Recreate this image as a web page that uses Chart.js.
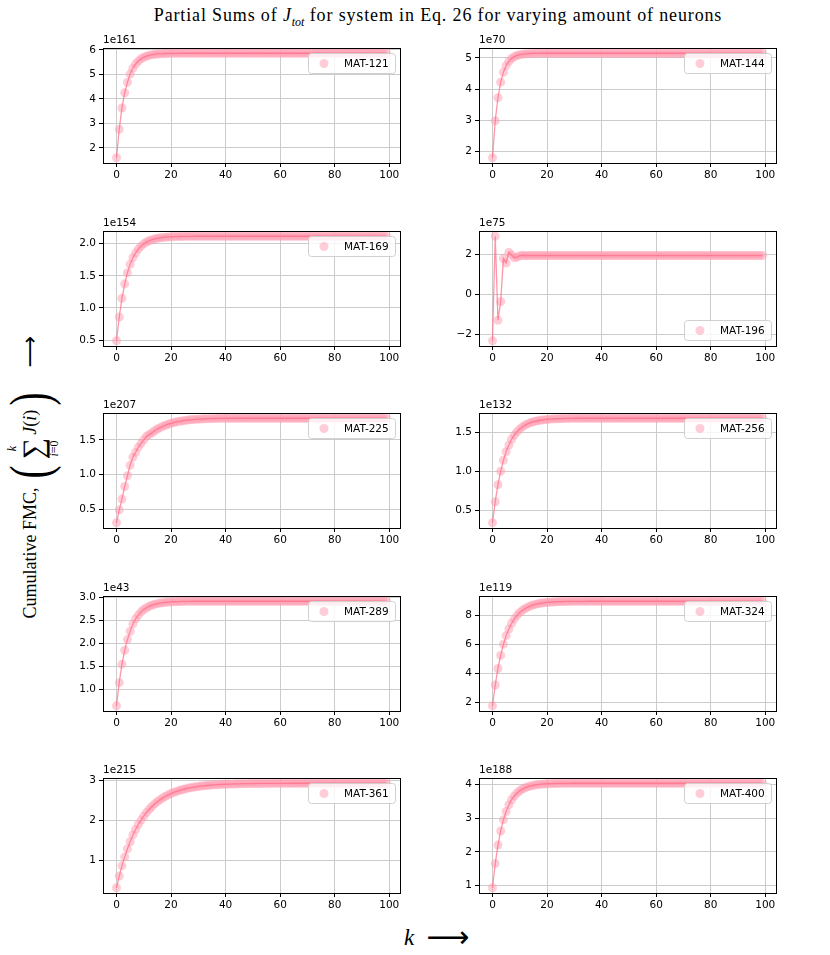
<!DOCTYPE html>
<html>
<head>
<meta charset="utf-8">
<script src="https://cdn.jsdelivr.net/npm/chart.js@4.4.0/dist/chart.umd.min.js"></script>
<style>
  body { margin: 0; background: #fff; }
  #fig { position: relative; width: 830px; height: 955px; overflow: hidden; font-family: "DejaVu Sans", sans-serif; }
  #fig canvas { position: absolute; }
  .serif { font-family: "Liberation Serif", "DejaVu Serif", serif; color: #000; }
  #title { position: absolute; top: 5px; left: 438px; transform: translateX(-50%); white-space: nowrap;
           font-size: 18px; line-height: 20px; letter-spacing: 0.85px; }
  #title sub { font-size: 12px; letter-spacing: 0; }
  #ylab { position: absolute; left: 30px; top: 477px; transform: translate(-50%, -50%) rotate(-90deg);
          display: flex; align-items: center; white-space: nowrap; font-size: 18px; line-height: 1; }
  #ylab .paren { display: inline-block; font-size: 56px; transform: scaleX(0.7); margin: 0 1px; }
  #ylab .sum { display: inline-flex; flex-direction: column; align-items: center; position: relative; top: 3px; margin: 0 3px; }
  #ylab .lim { font-size: 12px; }
  #ylab .sig { font-size: 30px; }
  #ylab .arrow { font-family: "DejaVu Sans", sans-serif; font-size: 22px; margin-left: 22px; }
  #xlab { position: absolute; left: 404px; top: 922px; display: flex; align-items: center; font-size: 23px; line-height: 1; }
  #xlab .arrow { font-family: "DejaVu Sans", sans-serif; font-size: 30px; margin-left: 12px; }
</style>
</head>
<body>
<div id="fig">
  <div id="title" class="serif">Partial Sums of <i>J</i><sub><i>tot</i></sub> for system in Eq. 26 for varying amount of neurons</div>
  <div id="ylab" class="serif">
    <span>Cumulative FMC,&nbsp;</span>
    <span class="paren">(</span>
    <span class="sum"><span class="lim"><i>k</i></span><span class="sig">∑</span><span class="lim"><i>i</i>=0</span></span>
    <span><i>J</i>(<i>i</i>)</span>
    <span class="paren">)</span>
    <span class="arrow">⟶</span>
  </div>
  <div id="xlab" class="serif"><i>k</i><span class="arrow">⟶</span></div>
</div>
<script>
// k = 0 .. 99
var kValues = Array.from({ length: 100 }, function (_, i) { return i; });

var labels = ['MAT-121', 'MAT-144', 'MAT-169', 'MAT-196', 'MAT-225',
              'MAT-256', 'MAT-289', 'MAT-324', 'MAT-361', 'MAT-400'];
var exponents = [161, 70, 154, 75, 207, 132, 43, 119, 215, 188];
var legendCorner = ['upper', 'upper', 'upper', 'lower', 'upper',
                    'upper', 'upper', 'upper', 'upper', 'upper'];

var xTicks = [0, 20, 40, 60, 80, 100];
var yTicks = [
  [2, 3, 4, 5, 6],
  [2, 3, 4, 5],
  [0.5, 1.0, 1.5, 2.0],
  [-2, 0, 2],
  [0.5, 1.0, 1.5],
  [0.5, 1.0, 1.5],
  [1.0, 1.5, 2.0, 2.5, 3.0],
  [2, 4, 6, 8],
  [1, 2, 3],
  [1, 2, 3, 4]
];

// mantissas, multiply by 10^exponent
var mat121 = [
  1.60, 2.76, 3.63, 4.25, 4.67, 5.01, 5.25, 5.42, 5.54, 5.63,
  5.695, 5.74, 5.775, 5.80, 5.815, 5.83, 5.837, 5.843, 5.848, 5.851,
  5.854, 5.856, 5.857, 5.858, 5.859, 5.859, 5.86, 5.86, 5.86, 5.86,
  5.86, 5.86, 5.86, 5.86, 5.86, 5.86, 5.86, 5.86, 5.86, 5.86,
  5.86, 5.86, 5.86, 5.86, 5.86, 5.86, 5.86, 5.86, 5.86, 5.86,
  5.86, 5.86, 5.86, 5.86, 5.86, 5.86, 5.86, 5.86, 5.86, 5.86,
  5.86, 5.86, 5.86, 5.86, 5.86, 5.86, 5.86, 5.86, 5.86, 5.86,
  5.86, 5.86, 5.86, 5.86, 5.86, 5.86, 5.86, 5.86, 5.86, 5.86,
  5.86, 5.86, 5.86, 5.86, 5.86, 5.86, 5.86, 5.86, 5.86, 5.86,
  5.86, 5.86, 5.86, 5.86, 5.86, 5.86, 5.86, 5.86, 5.86, 5.86
];
var mat144 = [
  1.79, 2.98, 3.72, 4.22, 4.54, 4.75, 4.89, 4.98, 5.04, 5.078,
  5.103, 5.12, 5.13, 5.137, 5.142, 5.145, 5.147, 5.148, 5.149, 5.15,
  5.15, 5.15, 5.15, 5.15, 5.15, 5.15, 5.15, 5.15, 5.15, 5.15,
  5.15, 5.15, 5.15, 5.15, 5.15, 5.15, 5.15, 5.15, 5.15, 5.15,
  5.15, 5.15, 5.15, 5.15, 5.15, 5.15, 5.15, 5.15, 5.15, 5.15,
  5.15, 5.15, 5.15, 5.15, 5.15, 5.15, 5.15, 5.15, 5.15, 5.15,
  5.15, 5.15, 5.15, 5.15, 5.15, 5.15, 5.15, 5.15, 5.15, 5.15,
  5.15, 5.15, 5.15, 5.15, 5.15, 5.15, 5.15, 5.15, 5.15, 5.15,
  5.15, 5.15, 5.15, 5.15, 5.15, 5.15, 5.15, 5.15, 5.15, 5.15,
  5.15, 5.15, 5.15, 5.15, 5.15, 5.15, 5.15, 5.15, 5.15, 5.15
];
var mat169 = [
  0.49, 0.86, 1.15, 1.375, 1.547, 1.68, 1.78, 1.855, 1.915, 1.961,
  1.997, 2.024, 2.045, 2.061, 2.074, 2.083, 2.091, 2.096, 2.101, 2.104,
  2.107, 2.109, 2.110, 2.111, 2.112, 2.113, 2.113, 2.114, 2.114, 2.115,
  2.115, 2.115, 2.115, 2.115, 2.115, 2.115, 2.115, 2.115, 2.115, 2.115,
  2.115, 2.115, 2.115, 2.115, 2.115, 2.115, 2.115, 2.115, 2.115, 2.115,
  2.115, 2.115, 2.115, 2.115, 2.115, 2.115, 2.115, 2.115, 2.115, 2.115,
  2.115, 2.115, 2.115, 2.115, 2.115, 2.115, 2.115, 2.115, 2.115, 2.115,
  2.115, 2.115, 2.115, 2.115, 2.115, 2.115, 2.115, 2.115, 2.115, 2.115,
  2.115, 2.115, 2.115, 2.115, 2.115, 2.115, 2.115, 2.115, 2.115, 2.115,
  2.115, 2.115, 2.115, 2.115, 2.115, 2.115, 2.115, 2.115, 2.115, 2.115
];
var mat196 = [
  -2.30, 2.90, -1.28, -0.35, 1.80, 1.57, 2.10, 1.97, 1.83, 1.86,
  1.93, 1.95, 1.93, 1.94, 1.94, 1.94, 1.94, 1.94, 1.94, 1.94,
  1.94, 1.94, 1.94, 1.94, 1.94, 1.94, 1.94, 1.94, 1.94, 1.94,
  1.94, 1.94, 1.94, 1.94, 1.94, 1.94, 1.94, 1.94, 1.94, 1.94,
  1.94, 1.94, 1.94, 1.94, 1.94, 1.94, 1.94, 1.94, 1.94, 1.94,
  1.94, 1.94, 1.94, 1.94, 1.94, 1.94, 1.94, 1.94, 1.94, 1.94,
  1.94, 1.94, 1.94, 1.94, 1.94, 1.94, 1.94, 1.94, 1.94, 1.94,
  1.94, 1.94, 1.94, 1.94, 1.94, 1.94, 1.94, 1.94, 1.94, 1.94,
  1.94, 1.94, 1.94, 1.94, 1.94, 1.94, 1.94, 1.94, 1.94, 1.94,
  1.94, 1.94, 1.94, 1.94, 1.94, 1.94, 1.94, 1.94, 1.94, 1.94
];
var mat225 = [
  0.31, 0.495, 0.65, 0.83, 0.985, 1.135, 1.25, 1.32, 1.395, 1.45,
  1.50, 1.55, 1.575, 1.60, 1.63, 1.655, 1.675, 1.695, 1.71, 1.725,
  1.737, 1.748, 1.757, 1.765, 1.772, 1.778, 1.783, 1.787, 1.791, 1.794,
  1.797, 1.799, 1.801, 1.803, 1.804, 1.805, 1.806, 1.807, 1.808, 1.809,
  1.809, 1.81, 1.81, 1.81, 1.81, 1.81, 1.81, 1.81, 1.81, 1.81,
  1.81, 1.81, 1.81, 1.81, 1.81, 1.81, 1.81, 1.81, 1.81, 1.81,
  1.81, 1.81, 1.81, 1.81, 1.81, 1.81, 1.81, 1.81, 1.81, 1.81,
  1.81, 1.81, 1.81, 1.81, 1.81, 1.81, 1.81, 1.81, 1.81, 1.81,
  1.81, 1.81, 1.81, 1.81, 1.81, 1.81, 1.81, 1.81, 1.81, 1.81,
  1.81, 1.81, 1.81, 1.81, 1.81, 1.81, 1.81, 1.81, 1.81, 1.81
];
var mat256 = [
  0.34, 0.61, 0.828, 1.00, 1.14, 1.25, 1.336, 1.41, 1.464, 1.507,
  1.542, 1.57, 1.592, 1.61, 1.624, 1.635, 1.644, 1.651, 1.657, 1.662,
  1.665, 1.668, 1.671, 1.673, 1.674, 1.675, 1.676, 1.677, 1.678, 1.679,
  1.68, 1.68, 1.68, 1.68, 1.68, 1.68, 1.68, 1.68, 1.68, 1.68,
  1.68, 1.68, 1.68, 1.68, 1.68, 1.68, 1.68, 1.68, 1.68, 1.68,
  1.68, 1.68, 1.68, 1.68, 1.68, 1.68, 1.68, 1.68, 1.68, 1.68,
  1.68, 1.68, 1.68, 1.68, 1.68, 1.68, 1.68, 1.68, 1.68, 1.68,
  1.68, 1.68, 1.68, 1.68, 1.68, 1.68, 1.68, 1.68, 1.68, 1.68,
  1.68, 1.68, 1.68, 1.68, 1.68, 1.68, 1.68, 1.68, 1.68, 1.68,
  1.68, 1.68, 1.68, 1.68, 1.68, 1.68, 1.68, 1.68, 1.68, 1.68
];
var mat289 = [
  0.65, 1.15, 1.55, 1.85, 2.08, 2.26, 2.42, 2.53, 2.61, 2.68,
  2.73, 2.77, 2.80, 2.825, 2.844, 2.858, 2.87, 2.879, 2.886, 2.891,
  2.895, 2.899, 2.901, 2.903, 2.905, 2.906, 2.907, 2.908, 2.909, 2.91,
  2.91, 2.91, 2.91, 2.91, 2.91, 2.91, 2.91, 2.91, 2.91, 2.91,
  2.91, 2.91, 2.91, 2.91, 2.91, 2.91, 2.91, 2.91, 2.91, 2.91,
  2.91, 2.91, 2.91, 2.91, 2.91, 2.91, 2.91, 2.91, 2.91, 2.91,
  2.91, 2.91, 2.91, 2.91, 2.91, 2.91, 2.91, 2.91, 2.91, 2.91,
  2.91, 2.91, 2.91, 2.91, 2.91, 2.91, 2.91, 2.91, 2.91, 2.91,
  2.91, 2.91, 2.91, 2.91, 2.91, 2.91, 2.91, 2.91, 2.91, 2.91,
  2.91, 2.91, 2.91, 2.91, 2.91, 2.91, 2.91, 2.91, 2.91, 2.91
];
var mat324 = [
  1.77, 3.20, 4.34, 5.24, 6.00, 6.60, 7.06, 7.45, 7.75, 8.00,
  8.19, 8.35, 8.47, 8.57, 8.65, 8.715, 8.77, 8.81, 8.84, 8.87,
  8.89, 8.905, 8.918, 8.928, 8.937, 8.943, 8.949, 8.953, 8.956, 8.959,
  8.961, 8.963, 8.964, 8.965, 8.966, 8.967, 8.968, 8.969, 8.97, 8.97,
  8.97, 8.97, 8.97, 8.97, 8.97, 8.97, 8.97, 8.97, 8.97, 8.97,
  8.97, 8.97, 8.97, 8.97, 8.97, 8.97, 8.97, 8.97, 8.97, 8.97,
  8.97, 8.97, 8.97, 8.97, 8.97, 8.97, 8.97, 8.97, 8.97, 8.97,
  8.97, 8.97, 8.97, 8.97, 8.97, 8.97, 8.97, 8.97, 8.97, 8.97,
  8.97, 8.97, 8.97, 8.97, 8.97, 8.97, 8.97, 8.97, 8.97, 8.97,
  8.97, 8.97, 8.97, 8.97, 8.97, 8.97, 8.97, 8.97, 8.97, 8.97
];
var mat361 = [
  0.31, 0.605, 0.857, 1.08, 1.28, 1.46, 1.63, 1.765, 1.89, 2.00,
  2.10, 2.19, 2.27, 2.34, 2.405, 2.46, 2.51, 2.555, 2.595, 2.63,
  2.662, 2.69, 2.715, 2.738, 2.758, 2.776, 2.792, 2.806, 2.818, 2.829,
  2.839, 2.848, 2.856, 2.863, 2.869, 2.875, 2.88, 2.884, 2.888, 2.892,
  2.895, 2.898, 2.90, 2.902, 2.904, 2.906, 2.908, 2.909, 2.91, 2.911,
  2.912, 2.913, 2.914, 2.914, 2.915, 2.915, 2.916, 2.916, 2.917, 2.917,
  2.917, 2.918, 2.918, 2.918, 2.919, 2.919, 2.919, 2.919, 2.92, 2.92,
  2.92, 2.92, 2.92, 2.92, 2.92, 2.92, 2.92, 2.92, 2.92, 2.92,
  2.92, 2.92, 2.92, 2.92, 2.92, 2.92, 2.92, 2.92, 2.92, 2.92,
  2.92, 2.92, 2.92, 2.92, 2.92, 2.92, 2.92, 2.92, 2.92, 2.92
];
var mat400 = [
  0.93, 1.65, 2.20, 2.62, 2.95, 3.20, 3.40, 3.55, 3.66, 3.75,
  3.815, 3.867, 3.907, 3.938, 3.961, 3.979, 3.993, 4.004, 4.012, 4.019,
  4.024, 4.027, 4.03, 4.032, 4.034, 4.035, 4.036, 4.037, 4.038, 4.039,
  4.04, 4.04, 4.04, 4.04, 4.04, 4.04, 4.04, 4.04, 4.04, 4.04,
  4.04, 4.04, 4.04, 4.04, 4.04, 4.04, 4.04, 4.04, 4.04, 4.04,
  4.04, 4.04, 4.04, 4.04, 4.04, 4.04, 4.04, 4.04, 4.04, 4.04,
  4.04, 4.04, 4.04, 4.04, 4.04, 4.04, 4.04, 4.04, 4.04, 4.04,
  4.04, 4.04, 4.04, 4.04, 4.04, 4.04, 4.04, 4.04, 4.04, 4.04,
  4.04, 4.04, 4.04, 4.04, 4.04, 4.04, 4.04, 4.04, 4.04, 4.04,
  4.04, 4.04, 4.04, 4.04, 4.04, 4.04, 4.04, 4.04, 4.04, 4.04
];
var allSeries = [mat121, mat144, mat169, mat196, mat225, mat256, mat289, mat324, mat361, mat400];

var LINE_COLOR = 'rgba(255,105,130,0.7)';
var MARK_COLOR = 'rgba(255,155,178,0.5)';
var TICK_FONT = { family: 'DejaVu Sans', size: 10.5 };

// axes boxes (figure pixels)
var colLeft = [103, 479];
var rowTop = [48, 230.5, 413, 595.5, 778];
var axW = 297, axH = 115;
var padL = 50, padT = 20, padR = 10, padB = 30;

function fmtTick(v, ticks) {
  var dec = ticks.some(function (t) { return Math.round(t) !== t; }) ? 1 : 0;
  return v.toFixed(dec).replace('-', '\u2212');
}

var decorPlugin = {
  id: 'decor',
  afterDatasetsDraw: function (chart) {
    var ctx = chart.ctx, ca = chart.chartArea;
    var o = chart.options.plugins.decor;
    ctx.save();
    // axes frame
    ctx.strokeStyle = '#000';
    ctx.lineWidth = 1;
    ctx.strokeRect(Math.round(ca.left) + 0.5, Math.round(ca.top) + 0.5,
                   Math.round(ca.right - ca.left), Math.round(ca.bottom - ca.top));
    // offset text
    ctx.fillStyle = '#000';
    ctx.font = '10.5px "DejaVu Sans"';
    ctx.textAlign = 'left';
    ctx.textBaseline = 'bottom';
    ctx.fillText('1e' + o.exp, ca.left, ca.top - 2);
    // legend
    var w = 87, h = 20;
    var bx = ca.right - 5 - w;
    var by = o.corner === 'lower' ? ca.bottom - 6 - h : ca.top + 5;
    ctx.beginPath();
    ctx.roundRect(bx + 0.5, by + 0.5, w, h, 3);
    ctx.fillStyle = 'rgba(255,255,255,0.8)';
    ctx.fill();
    ctx.strokeStyle = '#d0d0d0';
    ctx.stroke();
    ctx.beginPath();
    ctx.arc(bx + 16, by + h / 2 + 0.5, 4.5, 0, Math.PI * 2);
    ctx.fillStyle = MARK_COLOR;
    ctx.fill();
    ctx.fillStyle = '#000';
    ctx.textBaseline = 'middle';
    ctx.fillText(o.label, bx + 36, by + h / 2 + 1);
    ctx.restore();
  }
};

var fig = document.getElementById('fig');

allSeries.forEach(function (vals, i) {
  var row = Math.floor(i / 2), col = i % 2;
  var canvas = document.createElement('canvas');
  canvas.width = axW + padL + padR;
  canvas.height = axH + padT + padB;
  canvas.style.left = (colLeft[col] - padL) + 'px';
  canvas.style.top = Math.round(rowTop[row] - padT) + 'px';
  fig.appendChild(canvas);

  var lo = Math.min.apply(null, vals), hi = Math.max.apply(null, vals);
  var margin = 0.05 * (hi - lo);
  var ticksY = yTicks[i];
  var pts = kValues.map(function (k, j) { return { x: k, y: vals[j] }; });

  new Chart(canvas, {
    type: 'line',
    data: {
      datasets: [{
        label: labels[i],
        data: pts,
        showLine: false,
        pointRadius: 4.5,
        pointHoverRadius: 4.5,
        pointBackgroundColor: MARK_COLOR,
        pointBorderWidth: 0,
        order: 2
      }, {
        label: '',
        data: pts,
        borderColor: LINE_COLOR,
        borderWidth: 1.3,
        pointRadius: 0,
        tension: 0,
        fill: false,
        order: 1
      }]
    },
    options: {
      animation: false,
      responsive: false,
      events: [],
      layout: { padding: { top: padT, right: padR, left: 0, bottom: 0 } },
      plugins: {
        legend: { display: false },
        tooltip: { enabled: false },
        decor: { exp: exponents[i], label: labels[i], corner: legendCorner[i] }
      },
      scales: {
        x: {
          type: 'linear',
          min: -4.95,
          max: 103.95,
          afterBuildTicks: function (s) { s.ticks = xTicks.map(function (v) { return { value: v }; }); },
          afterFit: function (s) { s.height = padB; },
          border: { display: false },
          grid: { color: '#cccccc', lineWidth: 1, tickColor: '#000', tickLength: 4 },
          ticks: { font: TICK_FONT, color: '#000', padding: 2, maxRotation: 0, autoSkip: false,
                   callback: function (v) { return String(v); } }
        },
        y: {
          type: 'linear',
          min: lo - margin,
          max: hi + margin,
          afterBuildTicks: function (s) { s.ticks = ticksY.map(function (v) { return { value: v }; }); },
          afterFit: function (s) { s.width = padL; },
          border: { display: false },
          grid: { color: '#cccccc', lineWidth: 1, tickColor: '#000', tickLength: 4 },
          ticks: { font: TICK_FONT, color: '#000', padding: 3, autoSkip: false,
                   callback: function (v) { return fmtTick(v, ticksY); } }
        }
      }
    },
    plugins: [decorPlugin]
  });
});
</script>
</body>
</html>
